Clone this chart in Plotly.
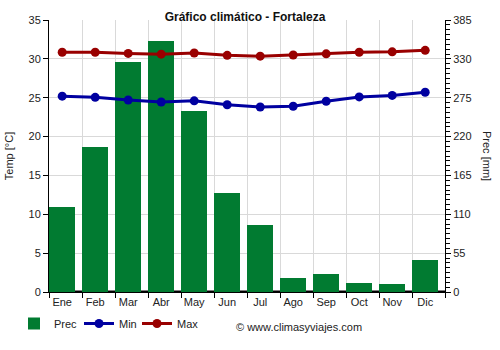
import plotly.graph_objects as go

months = ["Ene", "Feb", "Mar", "Abr", "May", "Jun", "Jul", "Ago", "Sep", "Oct", "Nov", "Dic"]
prec = [121, 205, 325, 355, 256, 140, 95, 20, 26, 13, 12, 46]
tmin = [25.2, 25.05, 24.7, 24.45, 24.6, 24.1, 23.8, 23.9, 24.55, 25.1, 25.3, 25.7]
tmax = [30.85, 30.85, 30.7, 30.6, 30.75, 30.45, 30.35, 30.5, 30.65, 30.85, 30.9, 31.1]

x = list(range(len(months)))
FONT = "Liberation Sans, Arial, sans-serif"

fig = go.Figure()
fig.add_trace(go.Bar(x=x, y=prec, name="Prec", yaxis="y", width=0.8, legend="legend",
                     marker=dict(color="#017b31", line=dict(width=0))))
fig.add_trace(go.Scatter(x=x, y=tmin, name="Min", mode="lines+markers", yaxis="y2",
                         legend="legend2",
                         line=dict(color="#0000a0", width=3),
                         marker=dict(size=9, color="#0000a0")))
fig.add_trace(go.Scatter(x=x, y=tmax, name="Max", mode="lines+markers", yaxis="y2",
                         legend="legend3",
                         line=dict(color="#990000", width=3),
                         marker=dict(size=9, color="#990000")))

bounds = [i - 0.4 for i in range(len(months) + 1)]

def leg(px):
    return dict(orientation="h", x=(px - 49) / 396, xanchor="left", xref="paper",
                y=-0.0625, yref="paper", yanchor="top", borderwidth=0,
                font=dict(size=11, color="#222"), bgcolor="rgba(0,0,0,0)")

fig.update_layout(
    width=500, height=350,
    margin=dict(l=49, r=55, t=20, b=58),
    paper_bgcolor="white", plot_bgcolor="white",
    font=dict(family=FONT, size=11, color="#222"),
    bargap=0,
    title=dict(text="<b>Gráfico climático - Fortaleza</b>", x=0.495, xref="paper",
               y=1 - 17 / 350, yref="container", xanchor="center", yanchor="middle",
               font=dict(size=12, color="#111", family=FONT)),
    xaxis=dict(range=[-0.4, len(months) - 0.4], tickmode="array", tickvals=x, ticktext=months,
               ticks="", showgrid=False, showline=True, linecolor="black", linewidth=1,
               zeroline=False, automargin=False, tickfont=dict(size=11, color="#222"),
               minor=dict(tickmode="array", tickvals=bounds, ticks="outside", ticklen=5,
                          tickcolor="black", showgrid=True, gridcolor="#d9d9d9", gridwidth=1)),
    yaxis=dict(range=[0, 385], dtick=55, side="right", ticks="outside",
               ticklen=5, tickcolor="black", showline=True, linecolor="black", linewidth=1,
               showgrid=True, gridcolor="#d9d9d9", zeroline=False, automargin=False,
               tickfont=dict(size=11, color="#222"),
               minor=dict(dtick=6.875, ticks="outside", ticklen=4, tickcolor="black", showgrid=False)),
    yaxis2=dict(range=[0, 35], dtick=5, overlaying="y", side="left", ticks="outside", ticklen=5,
                tickcolor="black", showline=True, linecolor="black", linewidth=1, showgrid=False,
                zeroline=False, automargin=False, tickfont=dict(size=11, color="#222"),
                title=dict(text="Temp [°C]", font=dict(size=11, color="#222"), standoff=12)),
    legend=leg(14),
    legend2=leg(79),
    legend3=leg(137),
    showlegend=True,
)

fig.add_shape(type="line", xref="paper", yref="y", x0=0, x1=1, y0=0, y1=0,
              line=dict(color="black", width=3), layer="below")

fig.add_annotation(text="Prec [mm]", textangle=90, xref="paper", yref="paper",
                   x=(487 - 49) / 396, y=0.5, showarrow=False, xanchor="center", yanchor="middle",
                   font=dict(size=11, color="#222"))
fig.add_annotation(text="© www.climasyviajes.com", xref="paper", yref="paper",
                   x=(234 - 49) / 396, y=-35 / 272, showarrow=False, xanchor="left", yanchor="middle",
                   font=dict(size=11, color="#222"))

fig.write_html("out.html")
